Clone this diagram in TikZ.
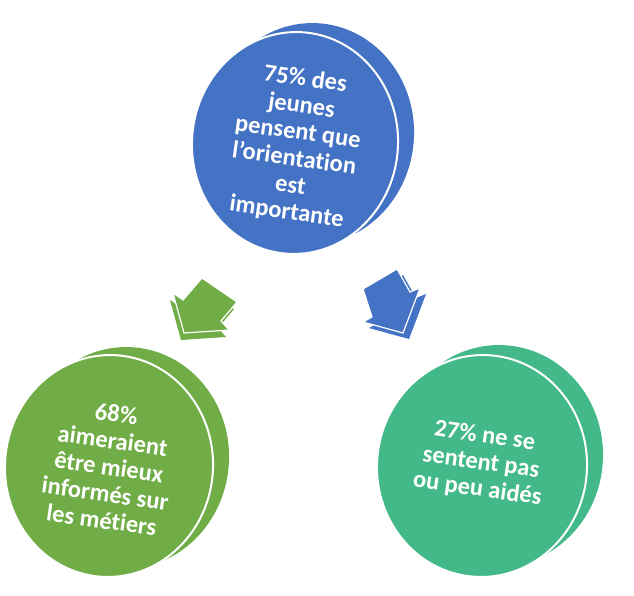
\documentclass[tikz,border=0pt]{standalone}
\usepackage{fontspec}
\setmainfont{Carlito}[Ligatures={NoCommon}]
\definecolor{cblue}{HTML}{4472C4}
\definecolor{cgreen}{HTML}{70AD47}
\definecolor{cteal}{HTML}{43B98A}
\tikzset{
  lab/.style={text=white, font=\bfseries\fontsize{24.5}{26.8}\selectfont, align=center, rotate=-8, inner sep=0pt},
  gap/.style={draw=white, line width=2pt},
  agap/.style={draw=white, line width=1.2pt, line join=miter}
}
\begin{document}
\begin{tikzpicture}[x=1pt, y=-1pt]
\useasboundingbox (0,0) rectangle (634,596);
% blue disc
\fill[cblue, rotate around={-5:(311,134)}] (311,134) ellipse [x radius=103, y radius=111];
\filldraw[fill=cblue, gap, rotate around={-5:(295,143)}] (295,143) ellipse [x radius=103, y radius=111];
\node[lab] (top) at (296,146) {75\% des\\jeunes\\pensent que\\l’orientation\\est\\importante};
% green disc
\fill[cgreen, rotate around={-5:(125,458)}] (125,458) ellipse [x radius=104, y radius=111];
\filldraw[fill=cgreen, gap, rotate around={-5:(109,466)}] (109,466) ellipse [x radius=104, y radius=111];
\node[lab] (left) at (109,467) {68\%\\aimeraient\\être mieux\\informés sur\\les métiers};
% teal disc
\fill[cteal, rotate around={-5:(498,456)}] (498,456) ellipse [x radius=105, y radius=111];
\filldraw[fill=cteal, gap, rotate around={-5:(482,466)}] (482,466) ellipse [x radius=105, y radius=111];
\node[lab] (right) at (481,463) {27\% ne se\\sentent pas\\ou peu aidés};
% green arrow
\begin{scope}[shift={(-3,7)}]
\fill[cgreen] (173,293) -- (183,300) -- (202,278) -- (237,302) -- (221,321) -- (229,330) -- (184,333) -- cycle;
\end{scope}
\filldraw[fill=cgreen, agap] (173,293) -- (183,300) -- (202,278) -- (237,302) -- (221,321) -- (229,330) -- (184,333) -- cycle;
% blue arrow
\begin{scope}[shift={(6,6)}]
\fill[cblue] (363,289) -- (397,269) -- (410,292) -- (420,288) -- (403,333) -- (363,322) -- (372,317) -- cycle;
\end{scope}
\filldraw[fill=cblue, agap] (363,289) -- (397,269) -- (410,292) -- (420,288) -- (403,333) -- (363,322) -- (372,317) -- cycle;
\end{tikzpicture}
\end{document}
